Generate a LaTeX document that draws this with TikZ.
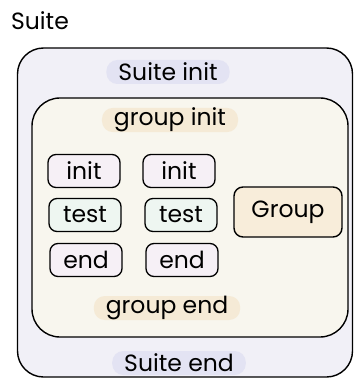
\documentclass[tikz,border=0pt]{standalone}
\usepackage{fontspec}
\setmainfont{Poppins}
\definecolor{suitefill}{HTML}{F1F0F7}
\definecolor{groupfill}{HTML}{F8F6EE}
\definecolor{initfill}{HTML}{F6F0F6}
\definecolor{testfill}{HTML}{EEF6F1}
\definecolor{gboxfill}{HTML}{F8EDDA}
\definecolor{suitehl}{HTML}{E3E3F3}
\definecolor{grouphl}{HTML}{F5EAD6}
\begin{document}
\begin{tikzpicture}[x=1pt,y=-1pt,
  font=\fontsize{23.5}{26}\selectfont,
  frame/.style={draw=black, line width=1.4pt, rounded corners=#1, inner sep=0pt},
  small/.style={draw=black, line width=1.3pt, rounded corners=8pt, minimum width=72pt, minimum height=33pt, inner sep=0pt},
  hl/.style={fill=#1, rounded corners=11pt, inner xsep=12pt, inner ysep=0pt, minimum height=24pt}]
\useasboundingbox (0,0) rectangle (354,379);
\fill[white] (0,0) rectangle (354,379);
\node[anchor=center] (title) at (40,21) {Suite};
\node[frame=26pt, fill=suitefill, minimum width=335pt, minimum height=329pt] (suite) at (185,212.5) {};
\node[frame=28pt, fill=groupfill, minimum width=316pt, minimum height=239pt] (group) at (190,217.5) {};
\node[hl=suitehl] (suiteinit) at (168,72) {Suite init};
\node[hl=grouphl] (groupinit) at (170,120) {group init};
\node[small, fill=initfill] (init1) at (84,171) {init};
\node[small, fill=initfill] (init2) at (179,171) {init};
\node[small, fill=testfill] (test1) at (85,215) {test};
\node[small, fill=testfill] (test2) at (181,215) {test};
\node[small, fill=initfill] (end1) at (86,260) {end};
\node[small, fill=initfill] (end2) at (182,260) {end};
\node[frame=9pt, fill=gboxfill, minimum width=108pt, minimum height=50pt] (gbox) at (288,212) {Group};
\node[hl=grouphl] (groupend) at (167,308) {group end};
\node[hl=suitehl] (suiteend) at (179,363) {Suite end};
\end{tikzpicture}
\end{document}
